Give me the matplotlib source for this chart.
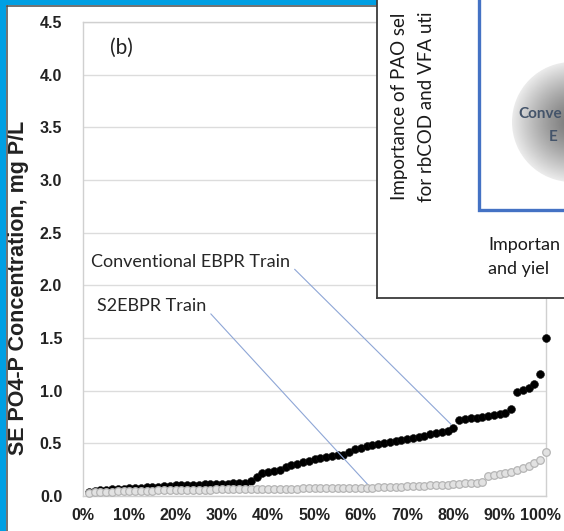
import numpy as np
import matplotlib
matplotlib.use("Agg")
import matplotlib.pyplot as plt
from matplotlib.patches import Rectangle, Circle
from matplotlib.lines import Line2D
from matplotlib.transforms import ScaledTranslation

# ---------------- data ----------------
conventional = [0.040, 0.045, 0.055, 0.060, 0.065, 0.070, 0.070, 0.075, 0.080, 0.080,
                0.085, 0.090, 0.090, 0.095, 0.095, 0.100, 0.100, 0.100, 0.105, 0.105,
                0.110, 0.110, 0.110, 0.115, 0.115, 0.120, 0.120, 0.125, 0.140, 0.180,
                0.220, 0.230, 0.240, 0.250, 0.280, 0.290, 0.300, 0.320, 0.330, 0.350,
                0.360, 0.370, 0.380, 0.385, 0.390, 0.420, 0.450, 0.460, 0.470, 0.480,
                0.490, 0.500, 0.510, 0.520, 0.530, 0.540, 0.550, 0.560, 0.570, 0.590,
                0.600, 0.610, 0.620, 0.650, 0.720, 0.730, 0.740, 0.745, 0.750, 0.760,
                0.770, 0.780, 0.790, 0.830, 0.990, 1.010, 1.030, 1.060, 1.160, 1.500]
s2ebpr = [0.030, 0.035, 0.040, 0.040, 0.042, 0.044, 0.045, 0.046, 0.048, 0.050,
          0.050, 0.052, 0.053, 0.054, 0.055, 0.056, 0.057, 0.058, 0.059, 0.060,
          0.060, 0.061, 0.062, 0.063, 0.064, 0.065, 0.065, 0.066, 0.067, 0.067,
          0.068, 0.068, 0.069, 0.070, 0.070, 0.071, 0.071, 0.072, 0.072, 0.073,
          0.073, 0.074, 0.074, 0.075, 0.075, 0.076, 0.077, 0.078, 0.079, 0.080,
          0.082, 0.084, 0.086, 0.088, 0.090, 0.092, 0.094, 0.096, 0.098, 0.100,
          0.103, 0.106, 0.109, 0.112, 0.116, 0.120, 0.124, 0.128, 0.135, 0.190,
          0.200, 0.205, 0.215, 0.230, 0.250, 0.265, 0.285, 0.310, 0.340, 0.420]
n_points = len(conventional)
percentile = [100.0 * (i + 1) / n_points for i in range(n_points)]

x_ticks = [0, 10, 20, 30, 40, 50, 60, 70, 80, 90, 100]
x_tick_labels = ["0%", "10%", "20%", "30%", "40%", "50%", "60%", "70%", "80%", "90%", "100%"]
y_ticks = [0.0, 0.5, 1.0, 1.5, 2.0, 2.5, 3.0, 3.5, 4.0, 4.5]
y_tick_labels = ["0.0", "0.5", "1.0", "1.5", "2.0", "2.5", "3.0", "3.5", "4.0", "4.5"]

# ---------------- figure ----------------
W, H = 564, 531
fig = plt.figure(figsize=(W / 100, H / 100), dpi=100)
fig.patch.set_facecolor("white")

def fx(px):
    return px / W

def fy(py):
    return 1 - py / H

bold_sans = ["Liberation Sans", "DejaVu Sans"]
calibri_like = ["Lato", "DejaVu Sans"]

# blue frame
blue = "#009fe3"
fig.add_artist(Rectangle((0, 0), fx(6), 1, transform=fig.transFigure,
                         facecolor=blue, edgecolor="none", zorder=0.5))
fig.add_artist(Rectangle((0, fy(5)), 1, 5 / H, transform=fig.transFigure,
                         facecolor=blue, edgecolor="none", zorder=0.5))
fig.add_artist(Line2D([fx(6.5), fx(6.5)], [0, fy(5.5)], transform=fig.transFigure,
                      color="#4a4a4a", lw=1.1, zorder=0.6))
fig.add_artist(Line2D([fx(6.5), 1], [fy(5.5), fy(5.5)], transform=fig.transFigure,
                      color="#4a4a4a", lw=1.1, zorder=0.6))

# main axes: pixel box left 83, right 546, top 22, bottom 496
ax = fig.add_axes([fx(83), fy(496), (546 - 83) / W, (496 - 22) / H])
ax.set_xlim(0, 100)
ax.set_ylim(0, 4.5)
for sp in ax.spines.values():
    sp.set_color("#d0d0d0")
    sp.set_linewidth(1.0)
ax.grid(axis="y", color="#dcdcdc", lw=1.0)
ax.set_axisbelow(True)

ax.scatter(percentile, conventional, s=32, color="black", edgecolors="#111111",
           linewidths=0.4, zorder=3, clip_on=False)
ax.scatter(percentile, s2ebpr, s=30, facecolors="#e2e2e2", edgecolors="#b5b5b5",
           linewidths=0.9, zorder=4, clip_on=False)

ax.set_xticks(x_ticks)
ax.set_xticklabels(x_tick_labels)
ax.set_yticks(y_ticks)
ax.set_yticklabels(y_tick_labels)
ax.tick_params(axis="both", length=0, colors="#222222")
ax.tick_params(axis="y", pad=15)
ax.tick_params(axis="x", pad=9)
for lab in ax.get_xticklabels() + ax.get_yticklabels():
    lab.set_fontfamily(bold_sans)
    lab.set_fontweight("bold")
    lab.set_fontsize(11.5)
last = ax.get_xticklabels()[-1]
last.set_transform(last.get_transform() + ScaledTranslation(-6 / 100, 0, fig.dpi_scale_trans))

ax.set_ylabel("SE PO4-P Concentration, mg P/L", fontfamily=bold_sans,
              fontweight="bold", fontsize=15.5, color="#222222")
ax.yaxis.set_label_coords((29 - 83) / 463, (496 - 288) / 474)

ax.text(8.2, 4.25, "(b)", fontfamily=calibri_like, fontsize=15, color="#222222",
        ha="center", va="center")

line_col = "#8ea6d6"
ax.annotate("Conventional EBPR Train", xy=(79.5, 0.68), xytext=(1.7, 2.22),
            fontfamily=calibri_like, fontsize=13, color="#262626", ha="left", va="center",
            arrowprops=dict(arrowstyle="-", color=line_col, lw=0.8,
                            relpos=(1.0, 0.35), shrinkA=2, shrinkB=0))
ax.annotate("S2EBPR Train", xy=(62.0, 0.085), xytext=(3.0, 1.80),
            fontfamily=calibri_like, fontsize=13, color="#262626", ha="left", va="center",
            arrowprops=dict(arrowstyle="-", color=line_col, lw=0.8,
                            relpos=(1.0, 0.35), shrinkA=2, shrinkB=0))

# ---------------- inset (pixel data coordinates) ----------------
ix0, ix1, iy1 = 377, 564, 298
ins = fig.add_axes([fx(ix0), fy(iy1), (ix1 - ix0) / W, iy1 / H], zorder=10)
ins.set_xlim(ix0, ix1)
ins.set_ylim(iy1, 0)
ins.set_facecolor("white")
ins.set_xticks([])
ins.set_yticks([])
ins.spines["top"].set_visible(False)
ins.spines["right"].set_visible(False)
ins.spines["left"].set_color("#3c3c3c")
ins.spines["bottom"].set_color("#3c3c3c")
ins.spines["left"].set_linewidth(1.3)
ins.spines["bottom"].set_linewidth(1.3)

# radial gradient sphere
cx, cy, R = 572, 122, 60
gx = np.linspace(cx - R, cx + R, 200)
gy = np.linspace(cy - R, cy + R, 200)
GX, GY = np.meshgrid(gx, gy)
rr = np.clip(np.hypot(GX - cx, GY - cy) / R, 0, 1)
shade = 0.47 + 0.45 * rr ** 1.3
img = ins.imshow(shade, cmap="gray", vmin=0, vmax=1,
                 extent=(cx - R, cx + R, cy + R, cy - R), zorder=1, interpolation="bilinear")
clip = Circle((cx, cy), R, transform=ins.transData, facecolor="none", edgecolor="none")
ins.add_patch(clip)
img.set_clip_path(clip)

ins.add_patch(Rectangle((479, -20), 220, 230, facecolor="none", edgecolor="#4472c4",
                        lw=2.4, zorder=2, clip_on=True))

ins.text(400, 200, "Importance of PAO sel", rotation=90, rotation_mode="anchor",
         ha="left", va="center", fontfamily=calibri_like, fontsize=13.5, color="#1a1a1a")
ins.text(427, 202, "for rbCOD and VFA uti", rotation=90, rotation_mode="anchor",
         ha="left", va="center", fontfamily=calibri_like, fontsize=13.5, color="#1a1a1a")
ins.text(488, 250, "Importan", ha="left", va="baseline", fontfamily=calibri_like,
         fontsize=13, color="#1a1a1a")
ins.text(488, 274, "and yiel", ha="left", va="baseline", fontfamily=calibri_like,
         fontsize=13, color="#1a1a1a")
ins.text(518, 114, "Conve", ha="left", va="center", fontfamily=calibri_like,
         fontweight="bold", fontsize=11, color="#44546a", zorder=3)
ins.text(549, 137, "E", ha="left", va="center", fontfamily=calibri_like,
         fontweight="bold", fontsize=11, color="#44546a", zorder=3)

fig.savefig("out.png", dpi=100, facecolor="white")
